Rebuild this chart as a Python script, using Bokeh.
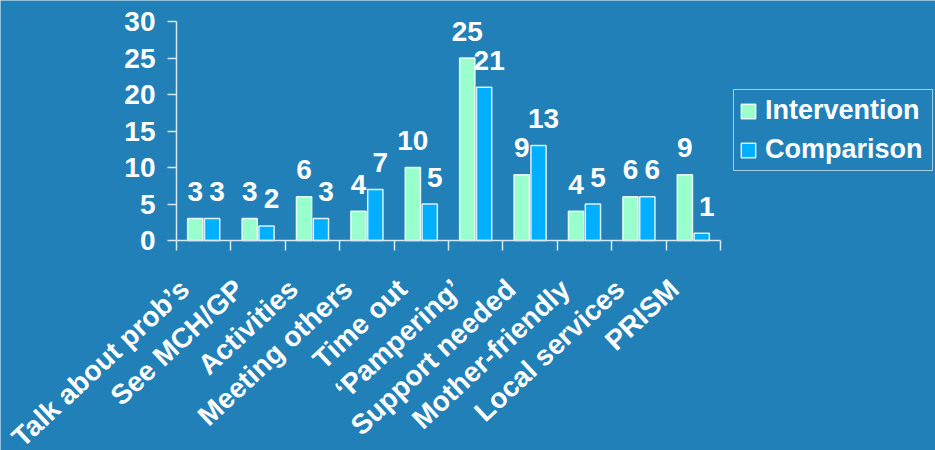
import math
from bokeh.plotting import figure
from bokeh.models import (Range1d, LinearAxis, FixedTicker, ColumnDataSource, Legend, LegendItem)
from bokeh.transform import dodge
from bokeh.core.properties import value
from bokeh.embed import file_html
from bokeh.resources import INLINE

categories = ["Talk about prob\u2019s", "See MCH/GP", "Activities", "Meeting others", "Time out",
              "\u2018Pampering\u2019", "Support needed", "Mother-friendly", "Local services", "PRISM"]
intervention = [3, 3, 6, 4, 10, 25, 9, 4, 6, 9]
comparison = [3, 2, 3, 7, 5, 21, 13, 5, 6, 1]
y_ticks = [0, 5, 10, 15, 20, 25, 30]
y_max = 30
series_names = ["Intervention", "Comparison"]

BG = "#2180B8"
GREEN = "#99FFCC"
BLUE = "#00B0FF"
FONT = "Liberation Sans"
AXIS_COL = "#d6e8f3"

# pixel layout of the plot area inside the 935x450 canvas
W, H = 935, 450
X0_PX, X1_PX = 176, 720      # x axis from first to last category boundary
Y0_PX, YTOP_PX = 240, 21     # pixel rows of y = 0 and y = y_max
n = len(categories)
sx = (X1_PX - X0_PX) / n
sy = (Y0_PX - YTOP_PX) / y_max
x_start = -X0_PX / sx
x_end = x_start + W / sx
y_start = -(H - Y0_PX) / sy
y_end = y_max + YTOP_PX / sy

centers = [i + 0.5 for i in range(n)]
source = ColumnDataSource(dict(xc=centers, zero=[0] * n, cat=categories,
                               inter=intervention, comp=comparison,
                               inter_lbl=[str(v) for v in intervention],
                               comp_lbl=[str(v) for v in comparison]))

p = figure(width=W, height=H, x_range=Range1d(x_start, x_end), y_range=Range1d(y_start, y_end),
           output_backend="svg", toolbar_location=None,
           x_axis_location=None, y_axis_location=None,
           min_border=0, min_border_left=0, min_border_right=0, min_border_top=0,
           min_border_bottom=0)

p.background_fill_color = BG
p.border_fill_color = BG
p.outline_line_color = None
p.xgrid.visible = False
p.ygrid.visible = False

# y axis fixed at x = 0
ya = LinearAxis(fixed_location=0, bounds=(0, y_max), ticker=FixedTicker(ticks=y_ticks),
                axis_line_color=AXIS_COL, axis_line_width=1.5,
                major_tick_line_color=AXIS_COL, major_tick_line_width=1.5,
                major_tick_out=9, major_tick_in=0, minor_tick_line_color=None,
                major_label_text_color="white", major_label_text_font=FONT,
                major_label_text_font_style="bold", major_label_text_font_size="28px",
                major_label_standoff=12)
p.add_layout(ya, "left")

# x axis fixed at y = 0, ticks at category boundaries
xt = LinearAxis(fixed_location=0, bounds=(0, n), ticker=FixedTicker(ticks=list(range(n + 1))),
                major_label_overrides={i: "" for i in range(n + 1)},
                major_label_text_alpha=0,
                major_tick_out=10, major_tick_in=0, minor_tick_line_color=None,
                axis_line_color=AXIS_COL, axis_line_width=1.5,
                major_tick_line_color=AXIS_COL, major_tick_line_width=1.5)
p.add_layout(xt, "below")

# category labels, rotated
p.text(x="xc", y="zero", text="cat", source=source, angle=math.radians(43),
       text_align="right", text_baseline="middle", x_offset=-19, y_offset=44,
       text_color="white", text_font=value(FONT), text_font_style="bold",
       text_font_size="28px")

r1 = p.vbar(x=dodge("xc", -0.155), top="inter", width=0.28, source=source,
            fill_color=GREEN, line_color="white", line_alpha=0.85, line_width=1.5)
r2 = p.vbar(x=dodge("xc", 0.155), top="comp", width=0.28, source=source,
            fill_color=BLUE, line_color="white", line_alpha=0.85, line_width=1.5)

for col, lbl, off, nudge in (("inter", "inter_lbl", -0.155, 0), ("comp", "comp_lbl", 0.155, 5)):
    p.text(x=dodge("xc", off), y=col, text=lbl, source=source,
           text_align="center", text_baseline="middle", x_offset=nudge, y_offset=-27,
           text_color="white", text_font=value(FONT), text_font_style="bold",
           text_font_size="28px")

legend = Legend(items=[LegendItem(label=series_names[0], renderers=[r1]),
                       LegendItem(label=series_names[1], renderers=[r2])],
                location=(733, H - 171), orientation="vertical",
                background_fill_alpha=0, border_line_color="white", border_line_alpha=0.6,
                border_line_width=1.5,
                label_text_color="white", label_text_font=FONT, label_text_font_style="bold",
                label_text_font_size="27px", glyph_width=18, glyph_height=18,
                label_standoff=8, label_width=162, padding=5, spacing=8, margin=0)
p.add_layout(legend, "center")

open("out.html", "w").write(file_html(p, INLINE))
